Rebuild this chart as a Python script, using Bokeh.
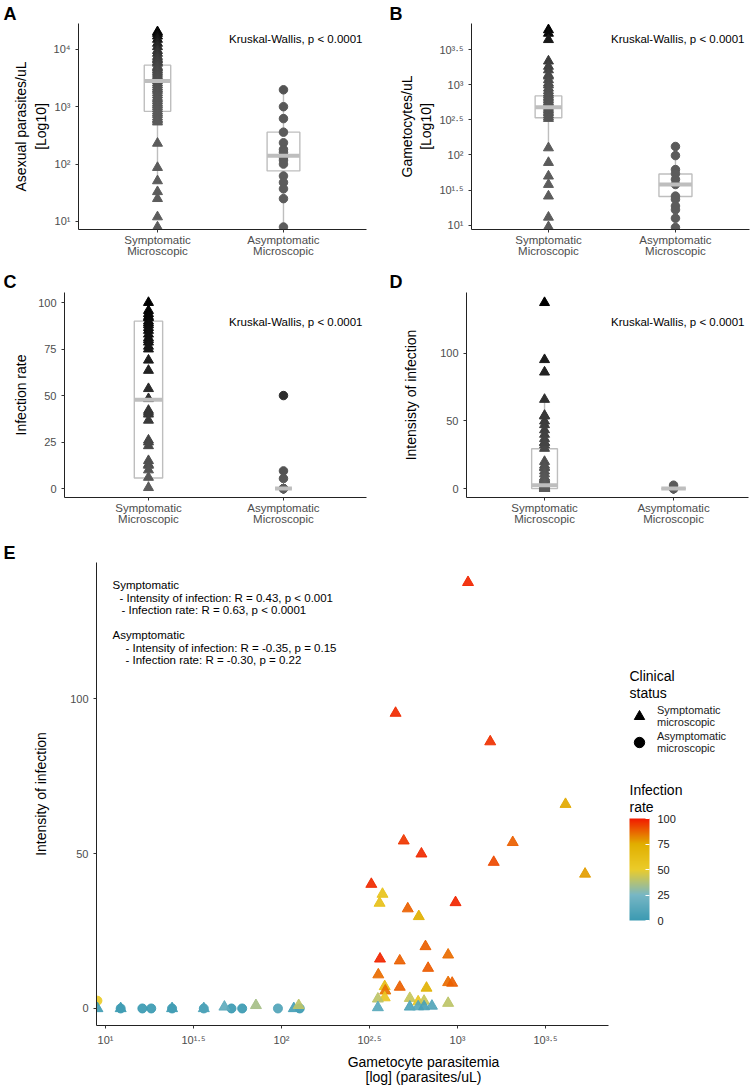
import numpy as np
from bokeh.plotting import figure
from bokeh.models import (ColumnDataSource, Range1d, FixedTicker, Label, LinearColorMapper,
                          ColorBar, Legend, LegendItem)
from bokeh.layouts import column, row
from bokeh.embed import file_html
from bokeh.resources import INLINE

FONT = "Liberation Sans"

# ---------------- data ----------------
categories = ["Symptomatic\nMicroscopic", "Asymptomatic\nMicroscopic"]
kw_text = "Kruskal-Wallis, p < 0.0001"

# Panel A: asexual parasites / uL
a_sym = [20200, 18900, 17000, 14900, 12700, 11100, 9500, 8500, 7500, 6900, 6500, 6000, 5700,
         5000, 4700, 4400, 4100, 3800, 3500, 3300, 3050, 2850, 2600, 2400, 2200, 2050, 1920,
         1750, 1600, 1450, 1350, 1250, 1150, 1080, 1000, 920, 840, 780, 730, 660, 610, 580,
         540, 230, 87, 51, 33, 25, 12, 8]
a_asym = [1970, 1000, 620, 360, 235, 180, 160, 130, 117, 100, 62, 48, 37, 25, 8]
a_q1, a_med, a_q3 = [830, 76], [2800, 140], [5300, 360]
a_lo, a_hi = [51, 8], [20200, 1970]
a_ticks = [10, 100, 1000, 10000]
a_tick_labels = ["10¹", "10²", "10³", "10⁴"]

# Panel B: gametocytes / uL
b_sym = [6026, 5370, 4365, 2163, 1820, 1622, 1380, 1320, 1175, 1050, 989, 891, 820, 759,
         720, 676, 640, 603, 570, 543, 515, 490, 460, 437, 415, 394, 370, 347, 330,
         126, 78, 50, 38, 26, 13, 9.5]
b_asym = [132, 98, 62, 54, 45, 38, 26, 23.4, 18.8, 16.6, 12.6, 9.3]
b_q1, b_med, b_q3 = [339, 25.7], [479, 38], [692, 53.7]
b_lo, b_hi = [126, 9.3], [1622, 132]
b_ticks = [10, 10 ** 1.5, 100, 10 ** 2.5, 1000, 10 ** 3.5]
b_tick_labels = ["10¹", "10¹·⁵", "10²", "10²·⁵", "10³", "10³·⁵"]

# Panel C: infection rate
c_sym = [100, 95.7, 94, 92.5, 91.8, 90, 89, 88, 86.5, 85, 83, 81, 80, 78.7, 76.5, 75, 69,
         63.5, 53.7, 48.3, 42, 41, 40, 36.7, 26, 25, 23, 15, 13, 12.5, 10, 6, 0.5]
c_asym = [50, 9.5, 5.4, 0, 0, 0, 0, 0, 0, 0, 0, 0]
c_q1, c_med, c_q3 = [5.7, 0], [47.8, 0], [90, 0]
c_lo, c_hi = [0.5, 0], [100, 0]
c_ticks = [0, 25, 50, 75, 100]

# Panel E (also used for panel D): symptomatic points
e_sym_gam = [1148, 445, 1535, 4111, 495, 624, 1607, 2061, 5309, 975, 522, 603, 658, 885, 470,
             681, 324, 375, 361, 363, 355, 386, 389, 386, 470, 667, 885, 933, 353, 353, 536,
             598, 646, 885, 536, 598, 646, 716, 9.0, 12.2, 23.9, 36.2, 47.4, 71.6, 117.5, 125.3]
e_sym_int = [137.5, 95.3, 86.1, 65.9, 54.1, 49.9, 47.2, 53.6, 43.4, 34.2, 32.2, 29.7, 20.0,
             17.3, 15.4, 13.0, 40.1, 36.9, 34.0, 16.0, 10.9, 7.1, 5.7, 3.5, 6.9, 6.6, 8.4, 8.2,
             3.1, 0.3, 3.3, 2.2, 2.4, 1.7, 0.5, 0.6, 0.6, 0.8, 0, 0, 0, 0, 0.5, 1.0, 0, 1.0]
e_sym_rate = [98, 97, 96, 76, 95, 97, 92, 88, 78, 98, 88, 74, 88, 86, 88, 89, 97, 58, 60, 98,
              86, 62, 85, 55, 88, 72, 86, 88, 40, 12, 42, 55, 42, 40, 8, 12, 6, 10, 3, 2, 3, 8,
              15, 35, 5, 40]
# asymptomatic points
e_asym_gam = [9.0, 12.2, 16.2, 18.2, 23.9, 36.2, 52.0, 59.8, 95.5, 127.0]
e_asym_int = [2.5, 0, 0, 0, 0, 0, 0, 0, 0, 0]
e_asym_rate = [50, 0, 0, 0, 0, 5, 0, 0, 9, 0]

d_q1, d_med, d_q3 = [0, 0], [2.5, 0], [29.5, 0]
d_lo, d_hi = [0, 0], [67, 0]
d_ticks = [0, 50, 100]

e_x_ticks = [10, 10 ** 1.5, 100, 10 ** 2.5, 1000, 10 ** 3.5]
e_x_tick_labels = ["10¹", "10¹·⁵", "10²", "10²·⁵", "10³", "10³·⁵"]
e_y_ticks = [0, 50, 100]
e_lines = ["Symptomatic",
           "- Intensity of infection: R = 0.43, p < 0.001",
           "- Infection rate: R = 0.63, p < 0.0001",
           "Asymptomatic",
           "- Intensity of infection: R = -0.35, p = 0.15",
           "- Infection rate: R = -0.30, p = 0.22"]
legend_title = "Clinical\nstatus"
legend_labels = ["Symptomatic\nmicroscopic", "Asymptomatic\nmicroscopic"]
cb_title = "Infection\nrate"
cb_ticks = [0, 25, 50, 75, 100]

# ---------------- styles ----------------
BOXC = "#BEBEBE"
greys = ["#%02x%02x%02x" % (g, g, g) for g in np.linspace(92, 0, 256).round().astype(int)]


def interp_palette(stops, n=256):
    rgb = [tuple(int(s[i:i + 2], 16) for i in (1, 3, 5)) for s in stops]
    out = []
    for k in range(n):
        t = k / (n - 1) * (len(stops) - 1)
        i = min(int(t), len(stops) - 2)
        f = t - i
        c = [round(rgb[i][j] + (rgb[i + 1][j] - rgb[i][j]) * f) for j in range(3)]
        out.append("#%02x%02x%02x" % tuple(c))
    return out


zissou = interp_palette(["#3B9AB2", "#78B7C5", "#EBCC2A", "#E1AF00", "#F21A00"])


def style(p):
    p.grid.visible = False
    p.outline_line_color = None
    for ax in p.axis:
        ax.axis_line_color = "#222222"
        ax.axis_line_width = 1
        ax.major_tick_line_color = "#333333"
        ax.major_tick_out = 3
        ax.major_tick_in = 0
        ax.minor_tick_line_color = None
        ax.major_label_text_font = FONT
        ax.major_label_text_color = "#4D4D4D"
        ax.major_label_text_font_size = "11px"
        ax.axis_label_text_font = FONT
        ax.axis_label_text_font_style = "normal"
        ax.axis_label_text_font_size = "14px"
        ax.axis_label_text_color = "#000000"
        ax.axis_label_text_line_height = 1.2


def set_letter(p, letter, offset, standoff):
    p.title.text = letter
    p.title.align = "left"
    p.title.offset = offset
    p.title.standoff = standoff
    p.title.text_font = FONT
    p.title.text_font_size = "18px"
    p.title.text_font_style = "bold"
    p.title.text_color = "#000000"


def add_label(p, text, sx, sy, size="11.5px", align="left", baseline="middle", lh=1.2):
    p.add_layout(Label(x=sx, y=sy, x_units="screen", y_units="screen", text=text,
                       text_font=FONT, text_font_size=size, text_align=align,
                       text_baseline=baseline, text_color="#000000", text_line_height=lh))


def box_panel(w, h, borders, xr, yr, ytype, sym, asym, q1, med, q3, lo, hi, box_w,
              yticks, ylabels, ytitle, ystandoff, letter, letter_off, letter_standoff, kw_xy):
    l, r, t, b = borders
    p = figure(width=w, height=h, x_range=Range1d(*xr), y_range=Range1d(*yr),
               y_axis_type=ytype, output_backend="svg", toolbar_location=None,
               min_border_left=l, min_border_right=r, min_border_top=t, min_border_bottom=b)
    style(p)
    xs = [i + 1 for i in range(len(categories))]
    bsrc = ColumnDataSource(dict(x=xs, q1=q1, med=med, q3=q3, lo=lo, hi=hi, w=box_w))
    p.segment("x", "q3", "x", "hi", source=bsrc, line_color=BOXC, line_width=1.4)
    p.segment("x", "q1", "x", "lo", source=bsrc, line_color=BOXC, line_width=1.4)
    p.vbar(x="x", width="w", bottom="q1", top="q3", source=bsrc, fill_alpha=0,
           line_color=BOXC, line_width=1.4)
    allv = list(sym) + list(asym)
    mapper = LinearColorMapper(palette=greys, low=min(allv), high=max(allv))
    s1 = ColumnDataSource(dict(x=[xs[0]] * len(sym), v=sym))
    s2 = ColumnDataSource(dict(x=[xs[1]] * len(asym), v=asym))
    p.scatter("x", "v", source=s1, marker="triangle", size=10,
              color={"field": "v", "transform": mapper})
    p.scatter("x", "v", source=s2, marker="circle", size=8.5,
              color={"field": "v", "transform": mapper})
    p.rect(x="x", y="med", width="w", height=4, height_units="screen", source=bsrc,
           fill_color=BOXC, line_color=None)
    p.xaxis.ticker = FixedTicker(ticks=xs)
    p.xaxis.major_label_overrides = {x: c for x, c in zip(xs, categories)}
    p.xaxis.major_label_text_font_size = "11.5px"
    p.xaxis.major_label_text_line_height = 0.95
    p.xaxis.major_label_standoff = 1
    p.yaxis.ticker = FixedTicker(ticks=yticks)
    if ylabels is not None:
        p.yaxis.major_label_overrides = {v: s for v, s in zip(yticks, ylabels)}
    p.yaxis.major_label_standoff = 5
    p.yaxis.axis_label = ytitle
    p.yaxis.axis_label_standoff = ystandoff
    add_label(p, kw_text, kw_xy[0], kw_xy[1], align="right")
    set_letter(p, letter, letter_off, letter_standoff)
    return p


pA = box_panel(377, 260, (78, 11, 23, 31), (0.373, 2.659), (10 ** 0.86, 10 ** 4.45), "log",
               a_sym, a_asym, a_q1, a_med, a_q3, a_lo, a_hi, [0.21, 0.26],
               a_ticks, a_tick_labels, "Asexual parasites/uL\n[Log10]", 2,
               "A", -75, 0, (284, 191))
pB = box_panel(377, 260, (94, 5, 23, 31), (0.394, 2.583), (10 ** 0.94, 10 ** 3.87), "log",
               b_sym, b_asym, b_q1, b_med, b_q3, b_lo, b_hi, [0.21, 0.26],
               b_ticks, b_tick_labels, "Gametocytes/uL\n[Log10]", 2,
               "B", -82, 0, (273, 191))
pC = box_panel(377, 280, (64, 11, 32, 43), (0.378, 2.615), (-4.8, 105.4), "linear",
               c_sym, c_asym, c_q1, c_med, c_q3, c_lo, c_hi, [0.21, 0.125],
               c_ticks, None, "Infection rate", 6,
               "C", -61, 2, (298, 176))
pD = box_panel(377, 280, (89, 6, 32, 43), (0.395, 2.581), (-6.6, 145), "linear",
               e_sym_int, e_asym_int, d_q1, d_med, d_q3, d_lo, d_hi, [0.2, 0.19],
               d_ticks, None, "Intensisty of infection", 18,
               "D", -77, 2, (278, 176))

# ---------------- panel E ----------------
x_lo, x_hi_axis, x_hi_frame = 10 ** 0.949, 10 ** 3.858, 10 ** 4.665
pE = figure(width=754, height=547, x_axis_type="log",
            x_range=Range1d(x_lo, x_hi_frame), y_range=Range1d(-5.5, 143.9),
            output_backend="svg", toolbar_location=None,
            min_border_left=96, min_border_right=4, min_border_top=21, min_border_bottom=60)
style(pE)
zmap = LinearColorMapper(palette=zissou, low=0, high=100)
srcA = ColumnDataSource(dict(x=e_asym_gam, y=e_asym_int, r=e_asym_rate))
srcS = ColumnDataSource(dict(x=e_sym_gam, y=e_sym_int, r=e_sym_rate))
pE.scatter("x", "y", source=srcA, marker="circle", size=9,
           color={"field": "r", "transform": zmap}, alpha=0.92)
pE.scatter("x", "y", source=srcS, marker="triangle", size=11,
           color={"field": "r", "transform": zmap}, alpha=0.92)
pE.xaxis.bounds = (x_lo, x_hi_axis)
pE.xaxis.ticker = FixedTicker(ticks=e_x_ticks)
pE.xaxis.major_label_overrides = {v: s for v, s in zip(e_x_ticks, e_x_tick_labels)}
pE.xaxis.major_label_standoff = 5
pE.xaxis.axis_label = "Gametocyte parasitemia\n[log] (parasites/uL)"
pE.xaxis.axis_label_standoff = 5
pE.xaxis.axis_label_text_line_height = 0.95
pE.yaxis.ticker = FixedTicker(ticks=e_y_ticks)
pE.yaxis.major_label_standoff = 5
pE.yaxis.axis_label = "Intensity of infection"
pE.yaxis.axis_label_standoff = 18
set_letter(pE, "E", -93, 0)

line_pos = [(16, 441), (23, 428), (25, 416), (16, 391), (29, 378), (29, 366)]
for txt, (sx, sy) in zip(e_lines, line_pos):
    add_label(pE, txt, sx, sy, size="11.5px")

# legend keys: black versions of the same points, hidden in the plot itself
rt = pE.scatter("x", "y", source=srcS, marker="triangle", color="black", size=11, visible=False)
rc = pE.scatter("x", "y", source=srcA, marker="circle", color="black", size=9, visible=False)
legend = Legend(items=[LegendItem(label=legend_labels[0], renderers=[rt]),
                       LegendItem(label=legend_labels[1], renderers=[rc])],
                location=(530, 270),
                label_text_font=FONT, label_text_font_size="11px", label_text_color="#1A1A1A",
                label_text_line_height=0.95, label_standoff=5,
                glyph_width=26, glyph_height=26, label_height=24, spacing=0,
                padding=0, margin=0, background_fill_alpha=0, border_line_color=None,
                inactive_fill_alpha=0)
pE.add_layout(legend)
add_label(pE, legend_title, 533, 358, size="14px", baseline="top", lh=1.1)

add_label(pE, cb_title, 533, 244, size="14px", baseline="top", lh=1.1)
cbar = ColorBar(color_mapper=zmap, ticker=FixedTicker(ticks=cb_ticks), width=20, height=102,
                location=(533, 105),
                major_label_text_font=FONT, major_label_text_font_size="11px",
                major_label_text_color="#1A1A1A", label_standoff=8,
                major_tick_line_color="white", major_tick_in=4, major_tick_out=0,
                bar_line_color=None, padding=0, background_fill_alpha=0,
                border_line_color=None)
pE.add_layout(cbar)

layout = column(row(pA, pB), row(pC, pD), pE)
open("out.html", "w").write(file_html(layout, INLINE, title="Figure"))
